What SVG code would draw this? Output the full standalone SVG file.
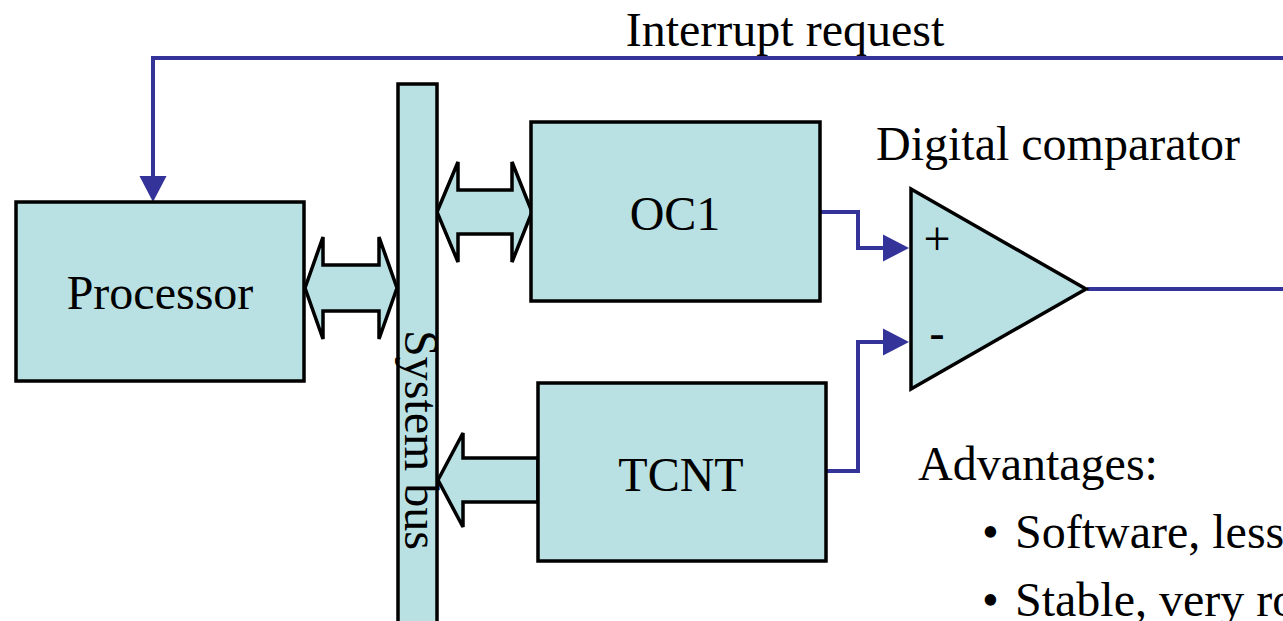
<svg xmlns="http://www.w3.org/2000/svg" width="1283" height="621" viewBox="0 0 1283 621">
<style>
.box{fill:#b9e0e3;stroke:#000;stroke-width:3.5}
.wire{fill:none;stroke:#333399;stroke-width:4;stroke-linejoin:miter}
.t{font-family:"Liberation Serif","Times New Roman",serif;font-size:48px;fill:#000}
.m{text-anchor:middle}
</style>
<defs>
<marker id="ah" markerUnits="userSpaceOnUse" markerWidth="26" markerHeight="28" viewBox="0 -13 25 26" refX="0" refY="0" orient="auto" overflow="visible">
<path d="M0,-13 L25,0 L0,13 Z" fill="#333399"/>
</marker>
</defs>
<rect width="1283" height="621" fill="#fff"/>
<g id="connectors">
<path class="wire" d="M1283,58 H153 V176" marker-end="url(#ah)"/>
<path class="wire" d="M820,212 H858 V248 H883" marker-end="url(#ah)"/>
<path class="wire" d="M826,471 H858 V342 H883" marker-end="url(#ah)"/>
<path class="wire" d="M1087,289 H1283"/>
<polygon class="box" points="305,288 323,237 323,265 379,265 379,237 397,288 379,339 379,311 323,311 323,339"/>
<polygon class="box" points="437,212 458,162 458,190 512,190 512,162 532,212 512,262 512,234 458,234 458,262"/>
<polygon class="box" points="438,480 463,433 463,458 538,458 538,502 463,502 463,527"/>
</g>
<g id="processor">
<rect class="box" x="16" y="202" width="288" height="179"/>
<text class="t m" x="160" y="309">Processor</text>
</g>
<g id="systembus">
<rect class="box" x="398" y="84" width="39" height="560"/>
<text class="t" transform="translate(405,330) rotate(90)">System bus</text>
</g>
<g id="oc1">
<rect class="box" x="531" y="122" width="289" height="179"/>
<text class="t m" x="675" y="230">OC1</text>
</g>
<g id="tcnt">
<rect class="box" x="538" y="383" width="288" height="178"/>
<text class="t m" x="681" y="491">TCNT</text>
</g>
<g id="comparator">
<polygon class="box" points="911,189 911,389 1086,289"/>
<text class="t m" x="937" y="255">+</text>
<text class="m" x="937" y="350" style="font-family:'Liberation Sans',Arial,sans-serif;font-size:48px">-</text>
<text class="t" x="876" y="160">Digital comparator</text>
</g>
<g id="labels">
<text class="t m" x="785" y="46">Interrupt request</text>
<text class="t" x="918" y="480">Advantages:</text>
<text class="t" x="982" y="548">•</text>
<text class="t" x="1015" y="548">Software, less</text>
<text class="t" x="982" y="616">•</text>
<text class="t" x="1015" y="616">Stable, very ro</text>
</g>
</svg>
